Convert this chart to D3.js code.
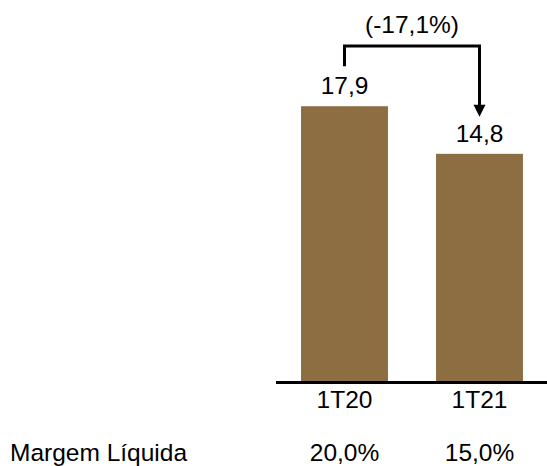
<!DOCTYPE html>
<head>
  <meta charset="utf-8">
  <script src="https://cdnjs.cloudflare.com/ajax/libs/d3/7.8.5/d3.min.js"></script>
  <style>
    body { margin: 0; background: #fff; }
    text { font-family: "Liberation Sans", Arial, sans-serif; fill: #000; font-size: 24.5px; }
  </style>
</head>
<body>
  <svg width="547" height="466"></svg>
  <script>
var categories = ["1T20", "1T21"];
var values = [17.9, 14.8];
var valueLabels = ["17,9", "14,8"];
var marginLabels = ["20,0%", "15,0%"];
var marginTitle = "Margem Líquida";
var changeLabel = "(-17,1%)";

var svg = d3.select("svg");

var x = d3.scaleBand().domain(categories).range([277, 547])
    .paddingInner(0.356).paddingOuter(0.178);
var y = d3.scaleLinear().domain([0, 20]).range([381, 74]);

svg.selectAll(".bar")
    .data(values)
  .enter().append("rect")
    .attr("class", "bar")
    .attr("x", function(d, i) { return x(categories[i]); })
    .attr("y", function(d) { return y(d); })
    .attr("width", x.bandwidth())
    .attr("height", function(d) { return y(0) - y(d); })
    .attr("fill", "#8D6E43");

// baseline
svg.append("line")
    .attr("x1", 276).attr("x2", 547)
    .attr("y1", y(0) + 1.5).attr("y2", y(0) + 1.5)
    .attr("stroke", "#000").attr("stroke-width", 3);

var cx = function(i) { return x(categories[i]) + x.bandwidth() / 2; };

svg.selectAll(".val")
    .data(valueLabels)
  .enter().append("text")
    .attr("x", function(d, i) { return cx(i); })
    .attr("y", function(d, i) { return y(values[i]) - 12; })
    .attr("text-anchor", "middle")
    .text(function(d) { return d; });

svg.selectAll(".cat")
    .data(categories)
  .enter().append("text")
    .attr("x", function(d, i) { return cx(i); })
    .attr("y", 408)
    .attr("text-anchor", "middle")
    .text(function(d) { return d; });

svg.selectAll(".mrg")
    .data(marginLabels)
  .enter().append("text")
    .attr("x", function(d, i) { return cx(i); })
    .attr("y", 461)
    .attr("text-anchor", "middle")
    .text(function(d) { return d; });

svg.append("text")
    .attr("x", 10).attr("y", 461)
    .text(marginTitle);

// change bracket with arrow
var bracketY = 46;
svg.append("path")
    .attr("d", "M" + cx(0) + "," + (y(values[0]) - 40) + " V" + bracketY + " H" + cx(1) + " V" + (y(values[1]) - 48))
    .attr("fill", "none")
    .attr("stroke", "#000")
    .attr("stroke-width", 3);

var tipY = y(values[1]) - 37;
svg.append("path")
    .attr("d", "M" + (cx(1) - 6) + "," + (tipY - 12) + " L" + (cx(1) + 6) + "," + (tipY - 12) + " L" + cx(1) + "," + tipY + " Z")
    .attr("fill", "#000");

svg.append("text")
    .attr("x", (cx(0) + cx(1)) / 2)
    .attr("y", 33)
    .attr("text-anchor", "middle")
    .text(changeLabel);
  </script>
</body>
